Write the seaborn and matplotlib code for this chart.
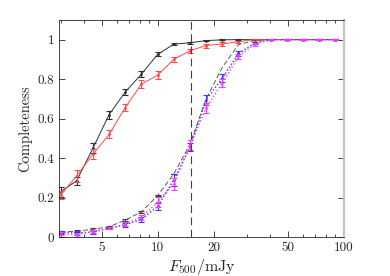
import numpy as np
import pandas as pd
import seaborn as sns
import matplotlib.pyplot as plt
from matplotlib.ticker import FixedLocator, NullFormatter

# flux bins (mJy)
flux = [3.0, 3.66, 4.48, 5.47, 6.68, 8.16, 9.97, 12.18, 14.88,
        18.17, 22.2, 27.1, 33.1, 40.5, 49.4, 60.4, 73.7, 90.0]

# completeness curves
black_solid = [0.23, 0.285, 0.45, 0.62, 0.735, 0.825, 0.925, 0.977, 0.984,
               0.995, 0.999, 1.0, 1.0, 1.0, 1.0, 1.0, 1.0, 1.0]
black_err = [0.025, 0.02, 0.025, 0.02, 0.015, 0.015, 0.01, 0.006, 0.005,
             0.004, 0.003, 0.002, 0.002, 0.002, 0.002, 0.002, 0.002, 0.002]
red_solid = [0.213, 0.31, 0.42, 0.52, 0.656, 0.775, 0.82, 0.90, 0.944,
             0.97, 0.978, 0.99, 1.0, 1.0, 1.0, 1.0, 1.0, 1.0]
red_err = [0.02, 0.03, 0.025, 0.02, 0.02, 0.02, 0.02, 0.012, 0.01,
           0.01, 0.008, 0.005, 0.003, 0.003, 0.003, 0.003, 0.003, 0.003]
black_dash = [0.025, 0.03, 0.04, 0.052, 0.086, 0.128, 0.21, 0.32, 0.47,
              0.70, 0.86, 0.975, 0.995, 1.0, 1.0, 1.0, 1.0, 1.0]
dash_err = [0.004, 0.004, 0.004, 0.004, 0.005, 0.004, 0.003, 0.002, 0.0,
            0.0, 0.0, 0.0, 0.0, 0.0, 0.0, 0.0, 0.0, 0.0]
blue_dot = [0.025, 0.022, 0.025, 0.045, 0.062, 0.09, 0.155, 0.29, 0.455,
            0.695, 0.805, 0.93, 0.983, 1.0, 1.0, 1.0, 1.0, 1.0]
blue_err = [0.008, 0.01, 0.008, 0.006, 0.01, 0.012, 0.02, 0.03, 0.02,
            0.025, 0.02, 0.012, 0.006, 0.002, 0.002, 0.002, 0.002, 0.002]
mag_dot = [0.018, 0.012, 0.028, 0.045, 0.066, 0.10, 0.178, 0.27, 0.465,
           0.655, 0.78, 0.915, 0.977, 1.0, 1.0, 1.0, 1.0, 1.0]
mag_err = [0.008, 0.01, 0.008, 0.006, 0.01, 0.012, 0.025, 0.03, 0.025,
           0.025, 0.02, 0.012, 0.008, 0.002, 0.002, 0.002, 0.002, 0.002]

flux_cut = 15.0

sns.set_style("ticks")
plt.rcParams["font.family"] = ["cmr10", "DejaVu Serif"]
plt.rcParams["mathtext.fontset"] = "cm"
plt.rcParams["axes.formatter.use_mathtext"] = True

fig = plt.figure(figsize=(3.9, 2.76), dpi=100)
ax = fig.add_axes([0.151, 0.141, 0.731, 0.787])

series = [
    (black_solid, black_err, "#303030", "-", 0.7, (None, None), 2),
    (red_solid, red_err, "#ff4a4a", "-", 0.7, (None, None), 2),
    (black_dash, dash_err, "#404040", "--", 0.6, (6, 3), 0),
    (blue_dot, blue_err, "#3a3aff", ":", 1.0, (1, 1.5), 2),
    (mag_dot, mag_err, "#f040f0", ":", 1.0, (1, 1.5), 2),
]

for vals, errs, col, ls, lw, dsh, ms in series:
    df = pd.DataFrame({"flux": flux, "c": vals, "e": errs})
    sns.lineplot(data=df, x="flux", y="c", ax=ax, color=col, linestyle=ls,
                 linewidth=lw, marker="o", markersize=ms, markeredgewidth=0,
                 errorbar=None)
    if dsh[0] is not None:
        ax.lines[-1].set_dashes(dsh)
    # only draw bars where there is an uncertainty
    sub = df[df["e"] > 0]
    ax.errorbar(sub["flux"], sub["c"], yerr=sub["e"], fmt="none", ecolor=col,
                elinewidth=0.8, capsize=2, capthick=0.8)

ax.axvline(flux_cut, color="#404040", linestyle=(0, (7, 4)), linewidth=0.8)

ax.set_xscale("log")
ax.set_xlim(2.94, 100)
ax.set_ylim(0, 1.1)
ax.xaxis.set_major_locator(FixedLocator([5, 10, 20, 50, 100]))
ax.set_xticklabels(["5", "10", "20", "50", "100"])
ax.xaxis.set_minor_locator(FixedLocator([3, 4, 6, 7, 8, 9, 30, 40, 60, 70, 80, 90]))
ax.xaxis.set_minor_formatter(NullFormatter())
ax.set_yticks([0, 0.2, 0.4, 0.6, 0.8, 1.0])
ax.set_yticklabels(["0", "0.2", "0.4", "0.6", "0.8", "1"])

ax.tick_params(which="both", direction="in", top=True, right=True,
               labelsize=9.5, colors="#262626", width=0.6)
ax.tick_params(which="major", length=4)
ax.tick_params(which="minor", length=2.5)
for side in ["left", "bottom", "top"]:
    ax.spines[side].set_linewidth(0.6)
    ax.spines[side].set_color("#262626")
ax.spines["right"].set_color("#c4c4c4")
ax.spines["right"].set_linewidth(1.6)

ax.set_xlabel(r"$F_{500}/\mathrm{mJy}$", fontsize=11.5, labelpad=2)
ax.set_ylabel("Completeness", fontsize=10.5, labelpad=4)

fig.savefig("out.png", dpi=100)
